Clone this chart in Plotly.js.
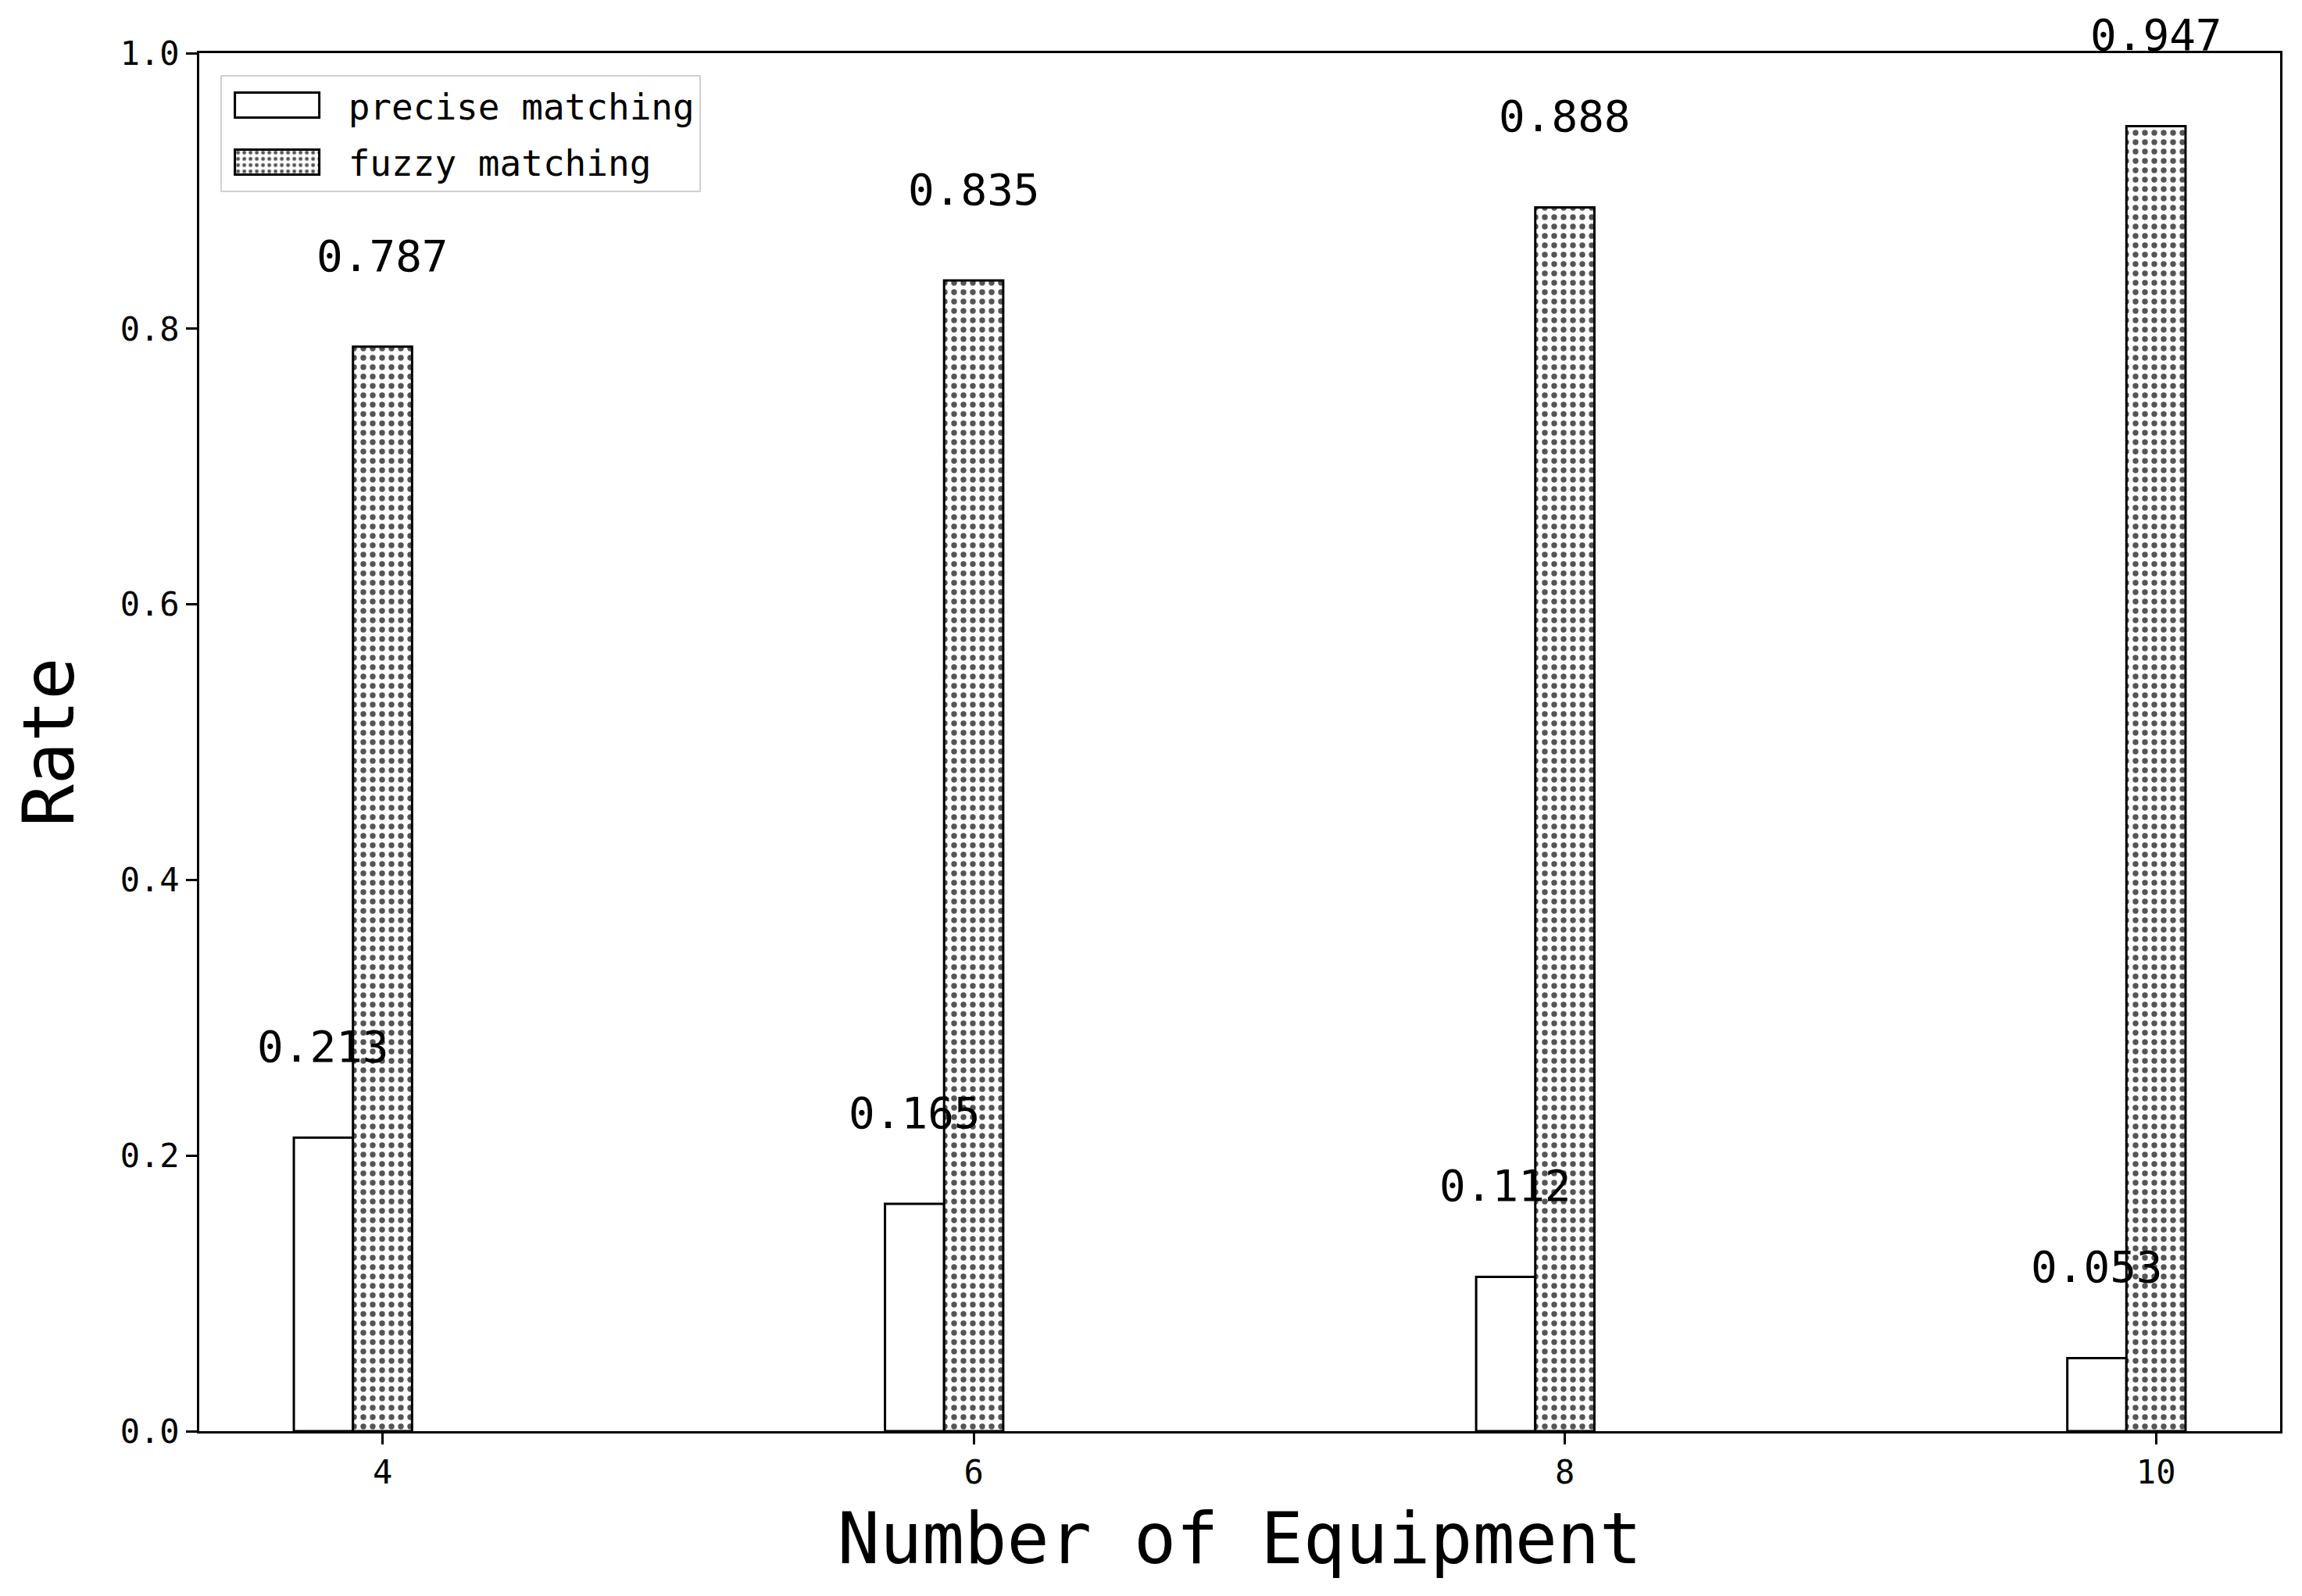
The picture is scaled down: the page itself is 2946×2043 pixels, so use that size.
<!DOCTYPE html>
<html>
<head>
<meta charset="utf-8">
<script src="https://cdn.plot.ly/plotly-3.0.1.min.js"></script>
<style>
  html, body { margin: 0; padding: 0; background: #fff; }
  #gd { width: 2946px; height: 2043px; }
</style>
</head>
<body>
<div id="gd"></div>
<script>
// number of equipment on the x axis
const equipment = [4, 6, 8, 10];
const precise = [0.213, 0.165, 0.112, 0.053];
const fuzzy = [0.787, 0.835, 0.888, 0.947];
const seriesNames = ['precise matching', 'fuzzy matching'];

const FONT = '"DejaVu Sans Mono", "Liberation Mono", monospace';
const barWidth = 0.2;

const tracePrecise = {
  x: equipment,
  y: precise,
  name: seriesNames[0],
  legendgroup: 'p',
  type: 'bar',
  width: barWidth,
  offset: -0.3,
  marker: { color: '#ffffff', line: { color: '#000000', width: 3 } },
  hoverinfo: 'skip'
};

const traceFuzzy = {
  x: equipment,
  y: fuzzy,
  name: seriesNames[1],
  legendgroup: 'f',
  type: 'bar',
  width: barWidth,
  offset: -0.1,
  marker: {
    color: '#ffffff',
    line: { color: '#000000', width: 3 },
    pattern: { shape: '.', fgcolor: '#555555', bgcolor: '#ffffff', size: 12, solidity: 0.3 }
  },
  hoverinfo: 'skip'
};

// value labels over each bar
const annotations = [];
equipment.forEach((e, i) => {
  annotations.push({ x: e - 0.2, y: precise[i] + 0.05, text: precise[i].toFixed(3) });
  annotations.push({ x: e, y: fuzzy[i] + 0.05, text: fuzzy[i].toFixed(3) });
});
annotations.forEach(a => {
  Object.assign(a, {
    xref: 'x', yref: 'y', showarrow: false, yanchor: 'bottom', yshift: -6,
    font: { family: FONT, size: 56, color: '#000' }
  });
});

const layout = {
  width: 2946,
  height: 2043,
  paper_bgcolor: '#fff',
  plot_bgcolor: '#fff',
  margin: { l: 255, r: 28, t: 68, b: 211 },
  barmode: 'overlay',
  showlegend: true,
  legend: {
    x: 0.01, y: 0.984, xanchor: 'left', yanchor: 'top',
    bgcolor: 'rgba(255,255,255,0.8)', bordercolor: '#d0d0d0', borderwidth: 2,
    font: { family: FONT, size: 46, color: '#000' },
    itemwidth: 152, tracegroupgap: 10
  },
  xaxis: {
    range: [3.38, 10.42],
    tickvals: equipment,
    ticktext: equipment.map(String),
    ticks: 'outside', ticklen: 14, tickwidth: 3, tickcolor: '#000',
    showline: true, linecolor: '#000', linewidth: 3, mirror: true,
    showgrid: false, zeroline: false,
    tickfont: { family: FONT, size: 42, color: '#000' },
    title: { text: 'Number of Equipment', font: { family: FONT, size: 90, color: '#000' }, standoff: 30 }
  },
  yaxis: {
    range: [0, 1.0],
    tickvals: [0, 0.2, 0.4, 0.6, 0.8, 1.0],
    tickformat: '.1f',
    ticks: 'outside', ticklen: 14, tickwidth: 3, tickcolor: '#000',
    showline: true, linecolor: '#000', linewidth: 3, mirror: true,
    showgrid: false, zeroline: false,
    tickfont: { family: FONT, size: 42, color: '#000' },
    title: { text: 'Rate', font: { family: FONT, size: 90, color: '#000' }, standoff: 30 }
  },
  annotations: annotations
};

Plotly.newPlot('gd', [tracePrecise, traceFuzzy], layout, { displayModeBar: false, staticPlot: true })
  .then(() => {
    // wider legend swatches, like the matplotlib ones
    document.querySelectorAll('.legend .legendpoints path').forEach(p => {
      p.setAttribute('d', 'M44,16H-64V-16H44Z');
    });
  });
</script>
</body>
</html>
